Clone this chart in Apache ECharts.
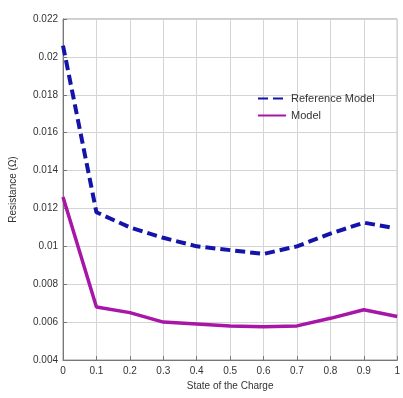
<!DOCTYPE html>
<html><head><meta charset="utf-8">
<script src="https://cdn.jsdelivr.net/npm/echarts@6/dist/echarts.min.js"></script>
<style>html,body{margin:0;padding:0;background:#fff}#c{width:403px;height:398px}</style>
</head><body><div id="c"></div>
<script>
const refX = [0, 0.1, 0.2, 0.3, 0.4, 0.5, 0.6, 0.7, 0.8, 0.9, 0.98];
const refY = [0.0206, 0.0118, 0.0110, 0.01045, 0.0100, 0.0098, 0.0096, 0.0100, 0.01067, 0.01125, 0.0110];
const modX = [0, 0.1, 0.2, 0.3, 0.4, 0.5, 0.6, 0.7, 0.8, 0.9, 1.0];
const modY = [0.0126, 0.0068, 0.0065, 0.0060, 0.0059, 0.0058, 0.00575, 0.0058, 0.0062, 0.00665, 0.0063];
const seriesNames = ['Reference Model', 'Model'];
const xTitle = 'State of the Charge';
const yTitle = 'Resistance (\u03A9)';

const chart = echarts.init(document.getElementById('c'));
const fmt = v => String(parseFloat(v.toFixed(4)));
const lab = {color:'#333', fontFamily:'Liberation Sans, Arial', fontSize:10};
chart.setOption({
  animation:false,
  grid:{left:63, top:19, right:2, bottom:38, show:true, borderColor:'#999', borderWidth:1},
  legend:{
    orient:'vertical', left:252, top:88, itemWidth:28, itemHeight:10, itemGap:6,
    itemStyle:{opacity:0},
    textStyle:{color:'#333', fontFamily:'Liberation Sans, Arial', fontSize:11},
    data:seriesNames
  },
  xAxis:{
    type:'value', min:0, max:1, interval:0.1,
    name:xTitle, nameLocation:'middle', nameGap:18,
    nameTextStyle:{color:'#333', fontFamily:'Liberation Sans, Arial', fontSize:10},
    axisLine:{lineStyle:{color:'#777'}},
    axisTick:{show:true, inside:true, length:4, lineStyle:{color:'#777'}},
    axisLabel:Object.assign({formatter:fmt, margin:6}, lab),
    splitLine:{show:true, lineStyle:{color:'#d4d4d4'}}
  },
  yAxis:{
    type:'value', min:0.004, max:0.022, interval:0.002,
    name:yTitle, nameLocation:'middle', nameGap:45, nameRotate:90,
    nameTextStyle:{color:'#333', fontFamily:'Liberation Sans, Arial', fontSize:10},
    axisLine:{show:true, lineStyle:{color:'#777'}},
    axisTick:{show:true, inside:true, length:4, lineStyle:{color:'#777'}},
    axisLabel:Object.assign({formatter:fmt, margin:5}, lab),
    splitLine:{show:true, lineStyle:{color:'#d4d4d4'}}
  },
  series:[
    {name:seriesNames[0], type:'line', symbol:'none', data:refX.map((x,i)=>[x,refY[i]]),
     lineStyle:{color:'#1414a8', width:4, type:[10,5]}, itemStyle:{color:'#1414a8'}},
    {name:seriesNames[1], type:'line', symbol:'none', data:modX.map((x,i)=>[x,modY[i]]),
     lineStyle:{color:'#a816a8', width:3.5}, itemStyle:{color:'#a816a8'}}
  ]
});
</script></body></html>
